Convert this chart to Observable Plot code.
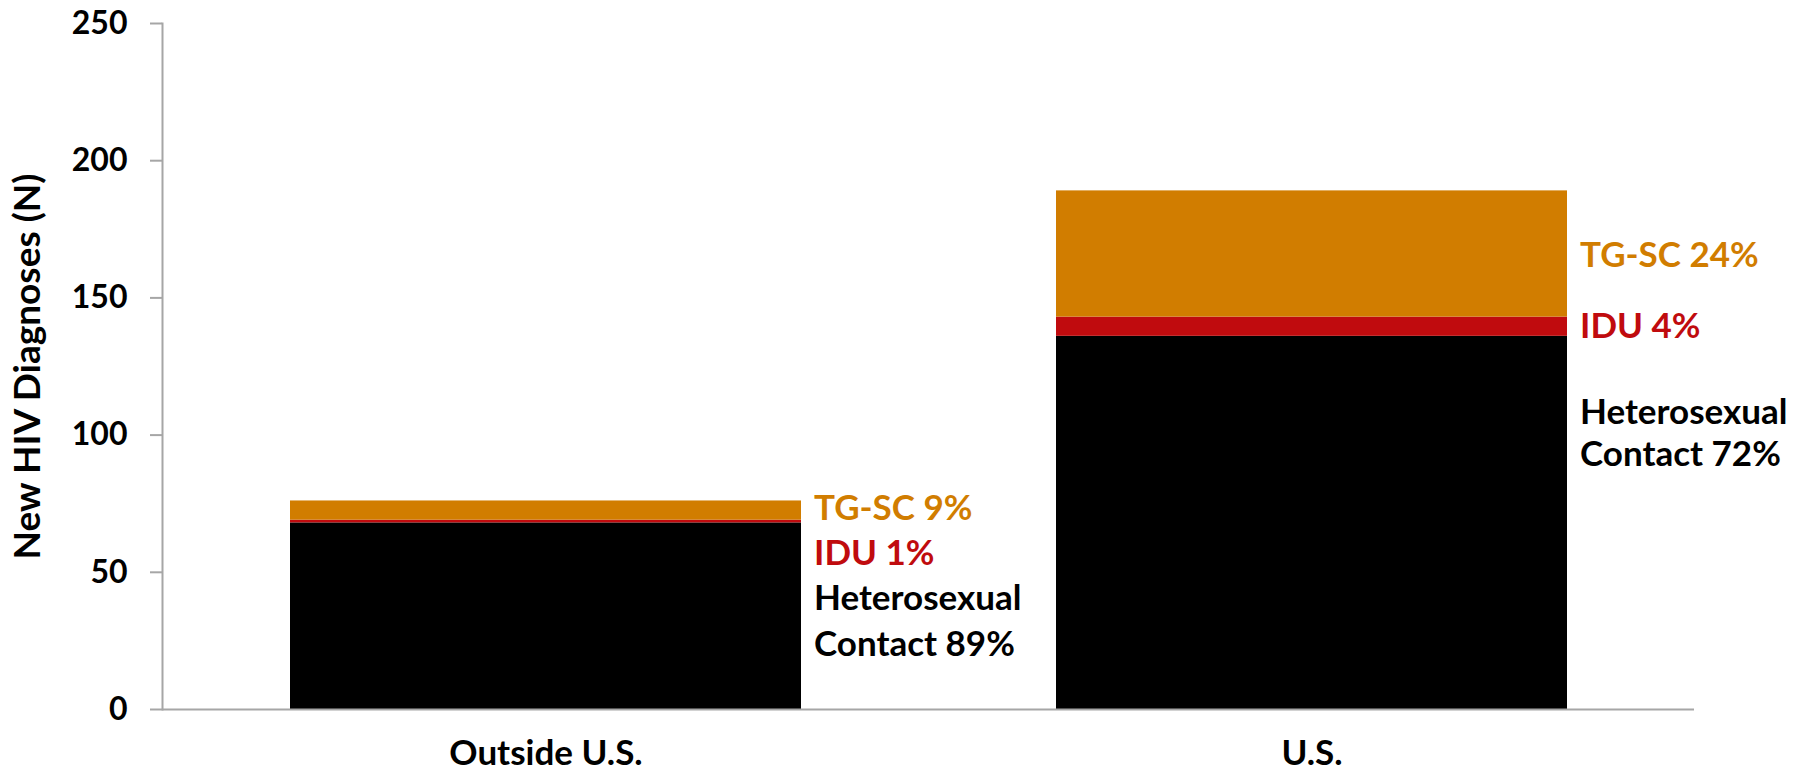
<!DOCTYPE html>
<html><head><meta charset="utf-8">
<script src="https://cdn.jsdelivr.net/npm/d3@7"></script>
<script src="https://cdn.jsdelivr.net/npm/@observablehq/plot@0.6"></script>
<style>body{margin:0;background:#fff;}</style>
</head><body><div id="chart"></div>
<script>
const categories = ["Outside U.S.", "U.S."];
const groups = ["Heterosexual Contact", "IDU", "TG-SC"];
const heterosexual = [68, 136];
const idu = [1, 7];
const tgsc = [7, 46];
const colors = ["#000000", "#C00B0E", "#D17D00"];
const yTicks = [0, 50, 100, 150, 200, 250];
const yTitle = "New HIV Diagnoses (N)";

// segment annotations (one entry per text line)
const labelCategory = ["Outside U.S.", "Outside U.S.", "Outside U.S.", "Outside U.S.", "U.S.", "U.S.", "U.S.", "U.S."];
const labelText = ["TG-SC 9%", "IDU 1%", "Heterosexual", "Contact 89%", "TG-SC 24%", "IDU 4%", "Heterosexual", "Contact 72%"];
const labelGroup = ["TG-SC", "IDU", "Heterosexual Contact", "Heterosexual Contact", "TG-SC", "IDU", "Heterosexual Contact", "Heterosexual Contact"];
const labelY = [73.3, 56.9, 40.5, 23.7, 165.2, 139.3, 108.0, 93.0];

const series = [heterosexual, idu, tgsc];
const rows = [];
categories.forEach((c, i) => groups.forEach((g, j) => rows.push({category: c, group: g, value: series[j][i]})));
const labels = labelText.map((t, i) => ({category: labelCategory[i], text: t, group: labelGroup[i], y: labelY[i]}));
const colorOf = Object.fromEntries(groups.map((g, i) => [g, colors[i]]));

const chart = Plot.plot({
  width: 1799,
  height: 772,
  marginLeft: 162,
  marginRight: 105,
  marginTop: 23,
  marginBottom: 63,
  style: {fontFamily: "Lato, sans-serif", fontWeight: "bold", fontSize: "32px", color: "black", background: "white"},
  x: {domain: categories, paddingInner: 1/3, paddingOuter: 1/6, axis: null},
  y: {domain: [0, 250], axis: null},
  color: {domain: groups, range: colors},
  marks: [
    Plot.barY(rows, {x: "category", y: "value", fill: "group"}),
    Plot.ruleY([0], {stroke: "#A6A6A6", strokeWidth: 2}),
    Plot.frame({anchor: "left", stroke: "#A6A6A6", strokeWidth: 2}),
    Plot.axisY({ticks: yTicks, tickSize: 12, tickPadding: 23, stroke: "#A6A6A6", strokeWidth: 2, fill: "black", fontSize: 32, fontWeight: "bold", label: null}),
    Plot.axisX({tickSize: 0, tickPadding: 31, fill: "black", fontSize: 35, fontWeight: "bold", label: null}),
    Plot.text(labels, {x: "category", y: "y", text: "text", fill: d => colorOf[d.group], textAnchor: "start", dx: 268, fontSize: 35, fontWeight: "bold"}),
    Plot.text([yTitle], {text: d => d, frameAnchor: "left", textAnchor: "middle", rotate: -90, dx: -134, fontSize: 37, fontWeight: "bold", fill: "black", letterSpacing: "5px"})
  ]
});
document.getElementById("chart").appendChild(chart);
</script>
</body></html>
